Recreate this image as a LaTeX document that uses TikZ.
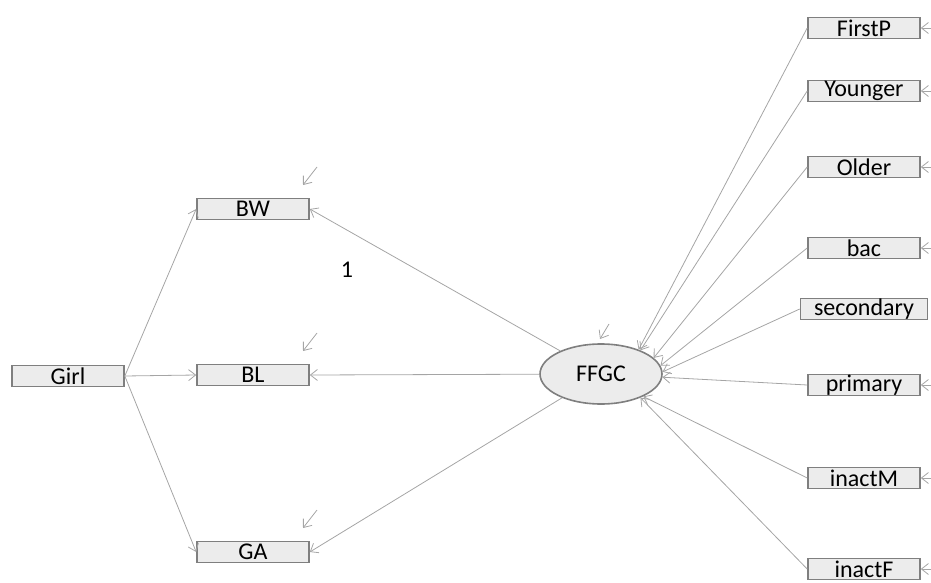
\documentclass[tikz,border=0pt]{standalone}
\usepackage{fontspec}
\setmainfont{Carlito}
\usetikzlibrary{shapes.geometric,arrows.meta}
\definecolor{boxfill}{HTML}{ECECEC}
\definecolor{boxedge}{HTML}{7F7F7F}
\definecolor{pathgray}{HTML}{A5A5A5}
\tikzset{
	obs/.style={draw=boxedge,line width=1.6pt,fill=boxfill,minimum width=112pt,minimum height=21pt,inner sep=0pt,font=\fontsize{24}{24}\selectfont},
	lat/.style={ellipse,draw=boxedge,line width=1.6pt,fill=boxfill,minimum width=122pt,minimum height=60pt,inner sep=0pt,font=\fontsize{24}{24}\selectfont},
	reg/.style={draw=pathgray,line width=0.8pt,-{Straight Barb[length=7pt,width=11pt]}}
}
\begin{document}
\begin{tikzpicture}[x=1pt,y=-1pt]
\useasboundingbox (0,0) rectangle (931,583);
% exogenous and indicators
\node[obs] (girl) at (68,376) {Girl};
\node[obs] (bw) at (253,209) {BW};
\node[obs] (bl) at (253,375) {BL};
\node[obs] (ga) at (253,552) {GA};
\node[lat] (ffgc) at (601,374) {FFGC};
% causes of FFGC
\node[obs] (firstp) at (864,28) {FirstP};
\node[obs] (younger) at (864,91) {Younger};
\node[obs] (older) at (864,167) {Older};
\node[obs] (bac) at (864,248) {bac};
\node[obs,minimum width=127pt] (secondary) at (864,309) {secondary};
\node[obs] (primary) at (864,385) {primary};
\node[obs] (inactm) at (864,478) {inactM};
\node[obs] (inactf) at (864,569) {inactF};
\node[font=\fontsize{24}{24}\selectfont] (one) at (347,270) {1};
\foreach \n in {bw,bl,ga}{
	\draw[reg] (girl.east) -- (\n.west);
	\draw[reg] (ffgc) -- (\n.east);
	\draw[reg] ([shift={(64,-42)}]\n.center) -- ([shift={(50,-24)}]\n.center);}
\foreach \n/\a in {firstp/33,younger/31,older/17,bac/8,secondary/2,primary/-3,inactm/-28,inactf/-31}{
	\draw[reg] (\n.west) -- (ffgc.\a);}
\foreach \n in {firstp,younger,older,bac,primary,inactm,inactf}{
	\draw[reg] ([xshift=12pt]\n.east) -- (\n.east);}
\draw[reg] ([shift={(8,-50)}]ffgc.center) -- ([shift={(-1,-35)}]ffgc.center);
\end{tikzpicture}
\end{document}
